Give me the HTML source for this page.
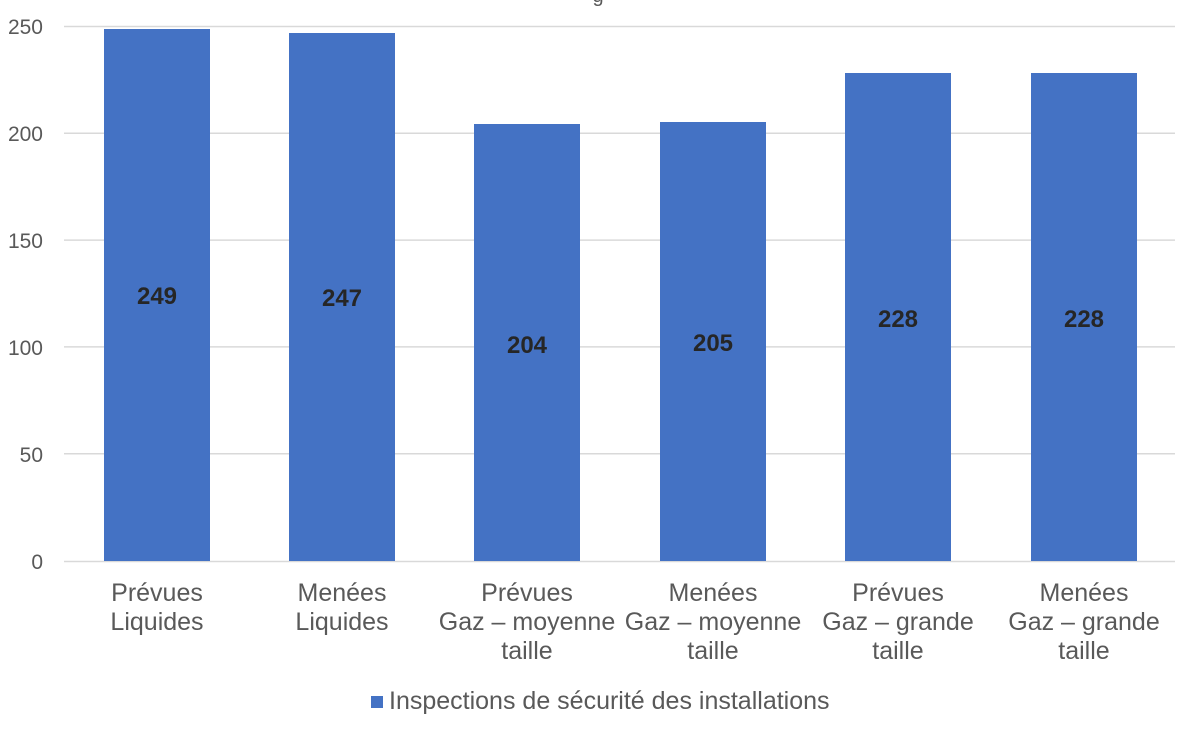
<!DOCTYPE html>
<html><head><meta charset="utf-8"><style>
html,body{margin:0;padding:0;background:#fff;width:1200px;height:731px;overflow:hidden}
text{font-family:"Liberation Sans",Arial,sans-serif}
</style></head><body>
<svg width="1200" height="731" viewBox="0 0 1200 731" xmlns="http://www.w3.org/2000/svg">
<text x="598" y="2" font-size="20" fill="#595959" text-anchor="middle">g</text>
<g stroke="#d9d9d9" stroke-width="1.5">
<line x1="64" x2="1175" y1="26.5" y2="26.5"/>
<line x1="64" x2="1175" y1="133.3" y2="133.3"/>
<line x1="64" x2="1175" y1="240.1" y2="240.1"/>
<line x1="64" x2="1175" y1="346.9" y2="346.9"/>
<line x1="64" x2="1175" y1="453.7" y2="453.7"/>
<line x1="64" x2="1175" y1="561.5" y2="561.5"/>
</g>
<g font-size="21" fill="#595959" text-anchor="end">
<text x="43" y="34">250</text>
<text x="43" y="141">200</text>
<text x="43" y="248">150</text>
<text x="43" y="355">100</text>
<text x="43" y="462">50</text>
<text x="43" y="569">0</text>
</g>
<g fill="#4472c4">
<rect x="104" y="29" width="106" height="532"/>
<rect x="289" y="33" width="106" height="528"/>
<rect x="474" y="124" width="106" height="437"/>
<rect x="660" y="122" width="106" height="439"/>
<rect x="845" y="73" width="106" height="488"/>
<rect x="1031" y="73" width="106" height="488"/>
</g>
<g font-size="24" font-weight="bold" fill="#262626" text-anchor="middle">
<text x="157" y="304">249</text>
<text x="342" y="306">247</text>
<text x="527" y="353">204</text>
<text x="713" y="351">205</text>
<text x="898" y="327">228</text>
<text x="1084" y="327">228</text>
</g>
<g font-size="25" fill="#595959" text-anchor="middle">
<text x="157" y="601">Prévues</text><text x="157" y="630">Liquides</text>
<text x="342" y="601">Menées</text><text x="342" y="630">Liquides</text>
<text x="527" y="601">Prévues</text><text x="527" y="630">Gaz – moyenne</text><text x="527" y="659">taille</text>
<text x="713" y="601">Menées</text><text x="713" y="630">Gaz – moyenne</text><text x="713" y="659">taille</text>
<text x="898" y="601">Prévues</text><text x="898" y="630">Gaz – grande</text><text x="898" y="659">taille</text>
<text x="1084" y="601">Menées</text><text x="1084" y="630">Gaz – grande</text><text x="1084" y="659">taille</text>
</g>
<rect x="371" y="696" width="12" height="12" fill="#4472c4"/>
<text x="389" y="709" font-size="25" fill="#595959">Inspections de sécurité des installations</text>
</svg>
</body></html>
